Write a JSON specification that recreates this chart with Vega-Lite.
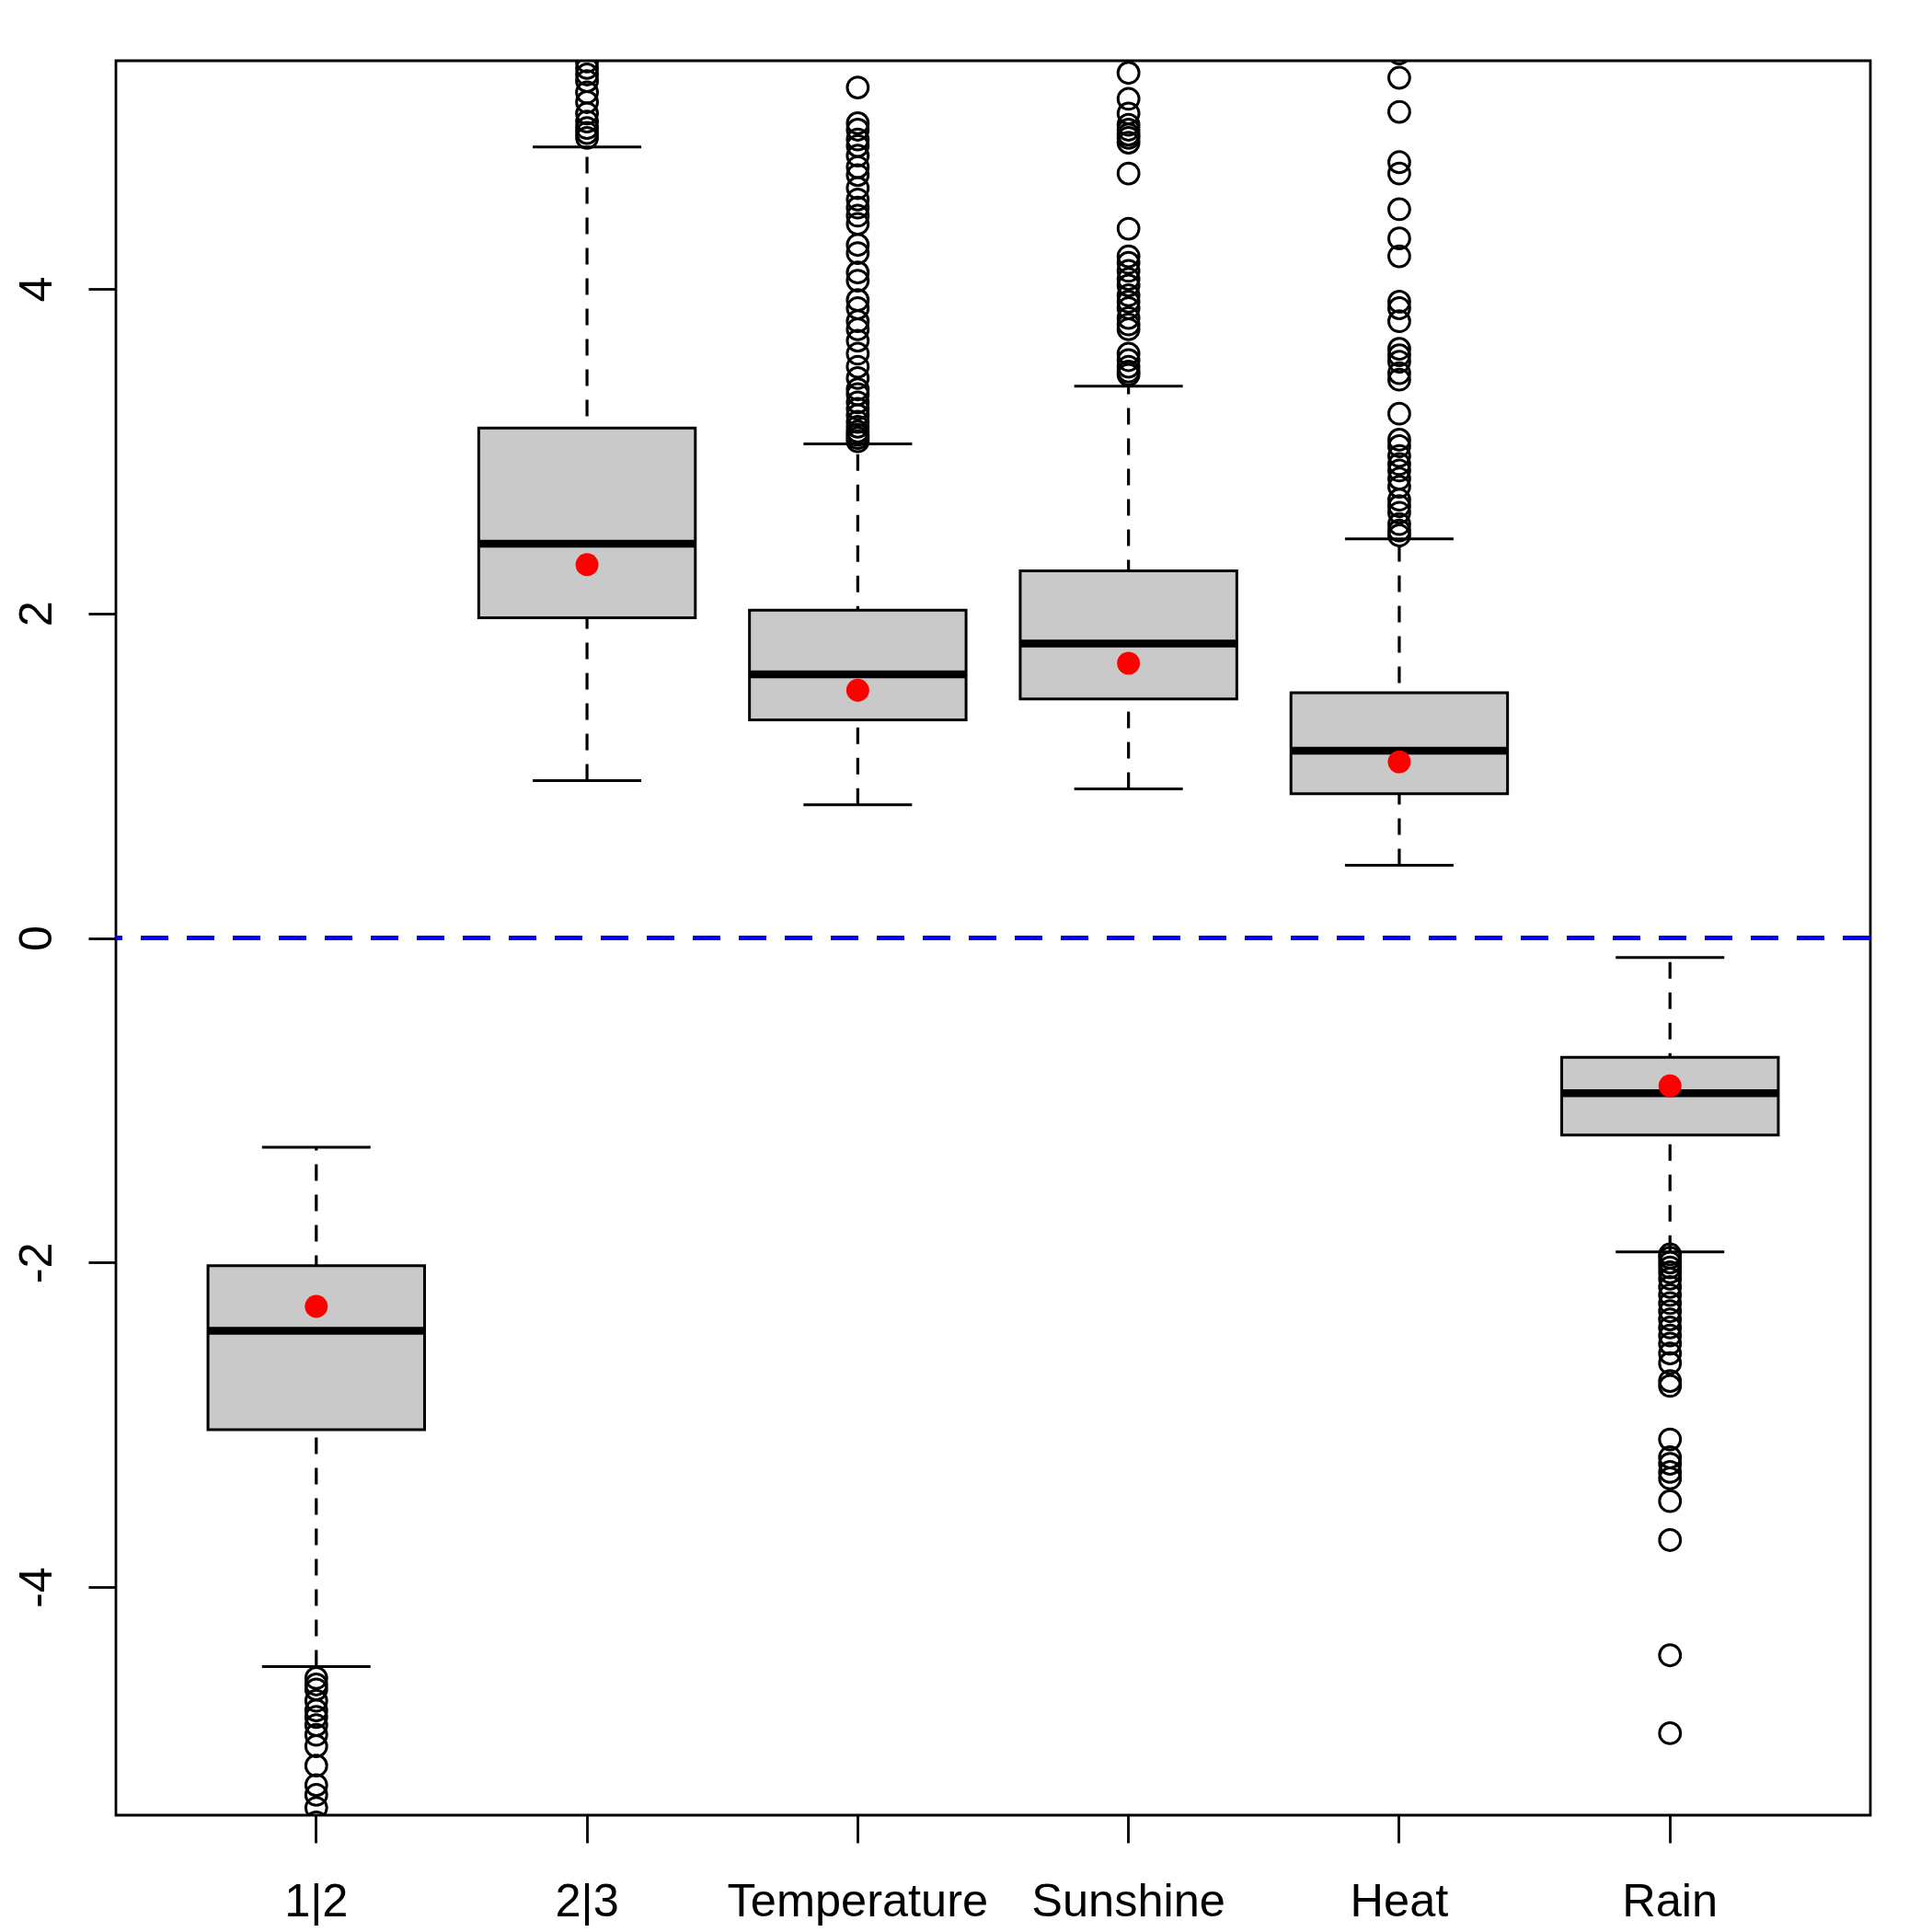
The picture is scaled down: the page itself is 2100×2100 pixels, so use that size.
{
  "$schema": "https://vega.github.io/schema/vega-lite/v6.json",
  "autosize": "none",
  "width": 1907,
  "height": 1907,
  "padding": {"left": 126, "top": 66, "right": 67, "bottom": 127},
  "background": "white",
  "config": {
    "view": {"stroke": "black", "strokeWidth": 2.8, "fill": "white"},
    "axis": {
      "labelFont": "Liberation Sans",
      "labelFontSize": 50.5,
      "labelColor": "black",
      "labelLimit": 0,
      "labelOverlap": false,
      "tickColor": "black",
      "tickWidth": 2.8,
      "tickSize": 30,
      "tickOpacity": 1,
      "domain": false,
      "grid": false,
      "title": null
    }
  },
  "datasets": {
    "stats": [
      {"var": "1|2", "lw": -4.49, "q1": -3.03, "med": -2.42, "q3": -2.02, "uw": -1.29, "mean": -2.27},
      {"var": "2|3", "lw": 0.97, "q1": 1.973, "med": 2.429, "q3": 3.142, "uw": 4.873, "mean": 2.30},
      {"var": "Temperature", "lw": 0.82, "q1": 1.343, "med": 1.624, "q3": 2.019, "uw": 3.044, "mean": 1.526},
      {"var": "Sunshine", "lw": 0.918, "q1": 1.472, "med": 1.814, "q3": 2.262, "uw": 3.40, "mean": 1.693},
      {"var": "Heat", "lw": 0.448, "q1": 0.888, "med": 1.154, "q3": 1.51, "uw": 2.459, "mean": 1.085},
      {"var": "Rain", "lw": -1.935, "q1": -1.214, "med": -0.956, "q3": -0.736, "uw": -0.121, "mean": -0.911}
    ],
    "outliers": [
      {"var": "1|2", "value": -4.56}, {"var": "1|2", "value": -4.60}, {"var": "1|2", "value": -4.63}, {"var": "1|2", "value": -4.70},
      {"var": "1|2", "value": -4.76}, {"var": "1|2", "value": -4.80}, {"var": "1|2", "value": -4.85}, {"var": "1|2", "value": -4.91},
      {"var": "1|2", "value": -4.98}, {"var": "1|2", "value": -5.10}, {"var": "1|2", "value": -5.22}, {"var": "1|2", "value": -5.28},
      {"var": "1|2", "value": -5.36}, {"var": "1|2", "value": -5.45},
      {"var": "2|3", "value": 4.93}, {"var": "2|3", "value": 4.96}, {"var": "2|3", "value": 4.99}, {"var": "2|3", "value": 5.03},
      {"var": "2|3", "value": 5.08}, {"var": "2|3", "value": 5.15}, {"var": "2|3", "value": 5.21}, {"var": "2|3", "value": 5.28},
      {"var": "2|3", "value": 5.32}, {"var": "2|3", "value": 5.36}, {"var": "2|3", "value": 5.40},
      {"var": "Temperature", "value": 5.24}, {"var": "Temperature", "value": 5.02}, {"var": "Temperature", "value": 4.98},
      {"var": "Temperature", "value": 4.92}, {"var": "Temperature", "value": 4.88}, {"var": "Temperature", "value": 4.82},
      {"var": "Temperature", "value": 4.75}, {"var": "Temperature", "value": 4.70}, {"var": "Temperature", "value": 4.62},
      {"var": "Temperature", "value": 4.55}, {"var": "Temperature", "value": 4.50}, {"var": "Temperature", "value": 4.45},
      {"var": "Temperature", "value": 4.40}, {"var": "Temperature", "value": 4.27}, {"var": "Temperature", "value": 4.22},
      {"var": "Temperature", "value": 4.10}, {"var": "Temperature", "value": 4.05}, {"var": "Temperature", "value": 3.93},
      {"var": "Temperature", "value": 3.88}, {"var": "Temperature", "value": 3.80}, {"var": "Temperature", "value": 3.75},
      {"var": "Temperature", "value": 3.68}, {"var": "Temperature", "value": 3.60}, {"var": "Temperature", "value": 3.52},
      {"var": "Temperature", "value": 3.45}, {"var": "Temperature", "value": 3.38}, {"var": "Temperature", "value": 3.35},
      {"var": "Temperature", "value": 3.30}, {"var": "Temperature", "value": 3.26}, {"var": "Temperature", "value": 3.22},
      {"var": "Temperature", "value": 3.18}, {"var": "Temperature", "value": 3.15}, {"var": "Temperature", "value": 3.12},
      {"var": "Temperature", "value": 3.10}, {"var": "Temperature", "value": 3.08}, {"var": "Temperature", "value": 3.06},
      {"var": "Sunshine", "value": 5.33}, {"var": "Sunshine", "value": 5.17}, {"var": "Sunshine", "value": 5.08},
      {"var": "Sunshine", "value": 5.01}, {"var": "Sunshine", "value": 4.98}, {"var": "Sunshine", "value": 4.95},
      {"var": "Sunshine", "value": 4.93}, {"var": "Sunshine", "value": 4.90}, {"var": "Sunshine", "value": 4.71},
      {"var": "Sunshine", "value": 4.37}, {"var": "Sunshine", "value": 4.20}, {"var": "Sunshine", "value": 4.16},
      {"var": "Sunshine", "value": 4.11}, {"var": "Sunshine", "value": 4.06}, {"var": "Sunshine", "value": 4.02},
      {"var": "Sunshine", "value": 3.96}, {"var": "Sunshine", "value": 3.92}, {"var": "Sunshine", "value": 3.88},
      {"var": "Sunshine", "value": 3.82}, {"var": "Sunshine", "value": 3.78}, {"var": "Sunshine", "value": 3.75},
      {"var": "Sunshine", "value": 3.60}, {"var": "Sunshine", "value": 3.56}, {"var": "Sunshine", "value": 3.52},
      {"var": "Sunshine", "value": 3.49}, {"var": "Sunshine", "value": 3.47},
      {"var": "Heat", "value": 5.45}, {"var": "Heat", "value": 5.30}, {"var": "Heat", "value": 5.09}, {"var": "Heat", "value": 4.78},
      {"var": "Heat", "value": 4.71}, {"var": "Heat", "value": 4.49}, {"var": "Heat", "value": 4.31}, {"var": "Heat", "value": 4.20},
      {"var": "Heat", "value": 3.92}, {"var": "Heat", "value": 3.88}, {"var": "Heat", "value": 3.80}, {"var": "Heat", "value": 3.63},
      {"var": "Heat", "value": 3.59}, {"var": "Heat", "value": 3.55}, {"var": "Heat", "value": 3.48}, {"var": "Heat", "value": 3.44},
      {"var": "Heat", "value": 3.23}, {"var": "Heat", "value": 3.07}, {"var": "Heat", "value": 3.03}, {"var": "Heat", "value": 2.97},
      {"var": "Heat", "value": 2.92}, {"var": "Heat", "value": 2.88}, {"var": "Heat", "value": 2.83}, {"var": "Heat", "value": 2.78},
      {"var": "Heat", "value": 2.70}, {"var": "Heat", "value": 2.66}, {"var": "Heat", "value": 2.62}, {"var": "Heat", "value": 2.55},
      {"var": "Heat", "value": 2.51}, {"var": "Heat", "value": 2.48},
      {"var": "Rain", "value": -1.95}, {"var": "Rain", "value": -1.97}, {"var": "Rain", "value": -2.00}, {"var": "Rain", "value": -2.03},
      {"var": "Rain", "value": -2.06}, {"var": "Rain", "value": -2.10}, {"var": "Rain", "value": -2.15}, {"var": "Rain", "value": -2.20},
      {"var": "Rain", "value": -2.25}, {"var": "Rain", "value": -2.30}, {"var": "Rain", "value": -2.35}, {"var": "Rain", "value": -2.40},
      {"var": "Rain", "value": -2.45}, {"var": "Rain", "value": -2.50}, {"var": "Rain", "value": -2.56}, {"var": "Rain", "value": -2.62},
      {"var": "Rain", "value": -2.73}, {"var": "Rain", "value": -2.76}, {"var": "Rain", "value": -3.09}, {"var": "Rain", "value": -3.20},
      {"var": "Rain", "value": -3.24}, {"var": "Rain", "value": -3.29}, {"var": "Rain", "value": -3.33}, {"var": "Rain", "value": -3.47},
      {"var": "Rain", "value": -3.71}, {"var": "Rain", "value": -4.42}, {"var": "Rain", "value": -4.90}
    ]
  },
  "encoding": {
    "x": {
      "field": "var",
      "type": "nominal",
      "sort": ["1|2", "2|3", "Temperature", "Sunshine", "Heat", "Rain"],
      "scale": {"type": "band", "paddingInner": 0.2, "paddingOuter": 0.34},
      "axis": {"labelAngle": 0, "labelBaseline": "alphabetic", "labelPadding": 79, "bandPosition": 0.5, "labelAlign": "center"}
    }
  },
  "layer": [
    {
      "data": {"name": "stats"},
      "mark": {"type": "rule", "color": "black", "strokeWidth": 3.2, "strokeDash": [18, 15], "opacity": 1},
      "encoding": {
        "y": {
          "field": "lw", "type": "quantitative",
          "scale": {"domain": [-5.405, 5.405], "nice": false, "zero": false},
          "axis": {"values": [-4, -2, 0, 2, 4], "labelExpr": "'' + datum.value", "labelAngle": -90, "labelBaseline": "alphabetic", "labelAlign": "center", "labelPadding": 41}
        },
        "y2": {"field": "uw"}
      }
    },
    {
      "data": {"name": "stats"},
      "mark": {"type": "tick", "color": "black", "size": 118, "thickness": 3, "orient": "horizontal", "opacity": 1},
      "encoding": {"y": {"field": "lw", "type": "quantitative"}}
    },
    {
      "data": {"name": "stats"},
      "mark": {"type": "tick", "color": "black", "size": 118, "thickness": 3, "orient": "horizontal", "opacity": 1},
      "encoding": {"y": {"field": "uw", "type": "quantitative"}}
    },
    {
      "data": {"name": "stats"},
      "mark": {"type": "bar", "fill": "#C9C9C9", "stroke": "black", "strokeWidth": 3, "opacity": 1},
      "encoding": {
        "y": {"field": "q1", "type": "quantitative"},
        "y2": {"field": "q3"}
      }
    },
    {
      "data": {"name": "stats"},
      "mark": {"type": "tick", "color": "black", "size": 235, "thickness": 8.5, "orient": "horizontal", "opacity": 1},
      "encoding": {"y": {"field": "med", "type": "quantitative"}}
    },
    {
      "data": {"name": "outliers"},
      "mark": {"type": "point", "shape": "circle", "filled": false, "stroke": "black", "strokeWidth": 3, "size": 520, "opacity": 1, "clip": true},
      "encoding": {"y": {"field": "value", "type": "quantitative"}}
    },
    {
      "data": {"name": "stats"},
      "mark": {"type": "point", "shape": "circle", "filled": true, "fill": "#FF0000", "strokeWidth": 0, "size": 620, "opacity": 1},
      "encoding": {"y": {"field": "mean", "type": "quantitative"}}
    },
    {
      "data": {"values": [{"zero": 0}]},
      "mark": {"type": "rule", "color": "#0000FF", "strokeWidth": 5.2, "strokeDash": [30, 20], "opacity": 1},
      "encoding": {"y": {"field": "zero", "type": "quantitative"}, "x": null}
    }
  ]
}
